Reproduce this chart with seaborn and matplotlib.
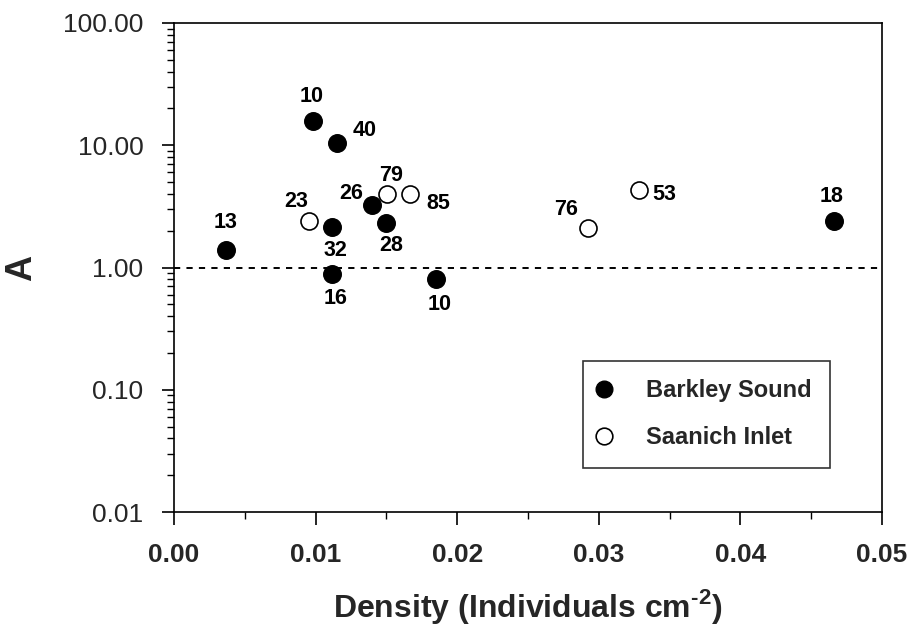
import matplotlib
matplotlib.use("Agg")
import matplotlib.pyplot as plt
import seaborn as sns
import pandas as pd
import numpy as np
from matplotlib.ticker import MultipleLocator, FixedLocator, FormatStrFormatter, LogLocator, NullFormatter
from matplotlib.lines import Line2D

# ---- data ----
barkley_density = [0.00367, 0.00980, 0.01149, 0.01118, 0.01118, 0.01398, 0.01497, 0.01850, 0.04663]
barkley_A = [1.385, 15.8, 10.4, 2.15, 0.88, 3.23, 2.33, 0.80, 2.39]
barkley_n = ["13", "10", "40", "32", "16", "26", "28", "10", "18"]

saanich_density = [0.00951, 0.01502, 0.01667, 0.02926, 0.03284]
saanich_A = [2.41, 4.01, 3.98, 2.11, 4.34]
saanich_n = ["23", "79", "85", "76", "53"]

x_ticks = [0.00, 0.01, 0.02, 0.03, 0.04, 0.05]
y_ticks = [0.01, 0.10, 1.00, 10.00, 100.00]

# label offsets (pixels) -- styling only
barkley_off = [(0, 28), (-1, 24), (28, 13), (3, -24), (3, -24), (-21, 12), (5, -23), (4, -25), (-3, 25)]
saanich_off = [(-12, 19), (4, 18), (28, -9), (-22, 18), (25, -5)]

sns.set_theme(style="ticks")
plt.rcParams['font.family'] = ['Liberation Sans', 'DejaVu Sans']
plt.rcParams['mathtext.fontset'] = 'custom'
plt.rcParams['mathtext.rm'] = 'Liberation Sans:bold'
plt.rcParams['mathtext.bf'] = 'Liberation Sans:bold'

fig = plt.figure(figsize=(9.07, 6.28), dpi=100)
ax = fig.add_axes([174/907, 1-512/628, 708/907, 489/628])

df_b = pd.DataFrame({"Density": barkley_density, "A": barkley_A})
df_s = pd.DataFrame({"Density": saanich_density, "A": saanich_A})

ax.axhline(1.0, color="black", lw=1.4, linestyle=(0, (3.2, 3.2)), zorder=1)

sns.scatterplot(data=df_b, x="Density", y="A", ax=ax, color="black", edgecolor="black",
                s=160, linewidth=1.0, zorder=3, legend=False)
sns.scatterplot(data=df_s, x="Density", y="A", ax=ax, color="white", edgecolor="black",
                s=150, linewidth=1.2, zorder=3, legend=False)

ax.set_yscale("log")
ax.set_xlim(0, 0.05)
ax.set_ylim(0.01, 100)

for xs, ys, ns, offs in [(barkley_density, barkley_A, barkley_n, barkley_off),
                         (saanich_density, saanich_A, saanich_n, saanich_off)]:
    for x, y, n, (dx, dy) in zip(xs, ys, ns, offs):
        ax.annotate(n, (x, y), xytext=(dx * 0.72, dy * 0.72), textcoords="offset points",
                    ha="center", va="center", fontsize=15.5, fontweight="bold", color="black")

ax.xaxis.set_major_locator(FixedLocator(x_ticks))
ax.xaxis.set_minor_locator(MultipleLocator(0.005))
ax.xaxis.set_major_formatter(FormatStrFormatter("%.2f"))
ax.yaxis.set_major_locator(FixedLocator(y_ticks))
ax.yaxis.set_minor_locator(LogLocator(base=10, subs=np.arange(2, 10)))
ax.yaxis.set_minor_formatter(NullFormatter())
ax.yaxis.set_major_formatter(FormatStrFormatter("%.2f"))

for s in ax.spines.values():
    s.set_color("black")
    s.set_linewidth(1.2)
    s.set_visible(True)

ax.tick_params(axis="both", which="major", direction="out", length=9, width=1.2, color="black")
ax.tick_params(axis="both", which="minor", direction="out", length=5, width=1.0, color="black")
ax.tick_params(axis="x", which="major", pad=13, labelsize=19)
ax.tick_params(axis="y", which="major", pad=13, labelsize=19)
ax.tick_params(top=False, right=False, which="both")
for lbl in ax.get_xticklabels():
    lbl.set_fontweight("bold")

ax.set_xlabel("Density (Individuals cm$^{\\text{-2}}$)", fontsize=23, fontweight="bold", labelpad=15)
ax.set_ylabel("A", fontsize=26, fontweight="bold", labelpad=17)
ax.grid(False)
ax.set_facecolor("white")

handles = [Line2D([], [], marker="o", linestyle="none", markerfacecolor="black", markeredgecolor="black", markersize=12),
           Line2D([], [], marker="o", linestyle="none", markerfacecolor="white", markeredgecolor="black",
                  markersize=12, markeredgewidth=1.2)]
leg = ax.legend(handles, ["Barkley Sound", "Saanich Inlet"], loc="lower right",
                bbox_to_anchor=(0.927, 0.09), frameon=True, fancybox=False,
                prop={"weight": "bold", "size": 17}, borderpad=0.8, labelspacing=1.0,
                handletextpad=1.65, handlelength=0.2, borderaxespad=0)
leg.get_frame().set_edgecolor("black")
leg.get_frame().set_linewidth(1.2)

fig.savefig("out.png", dpi=100, facecolor="white")
